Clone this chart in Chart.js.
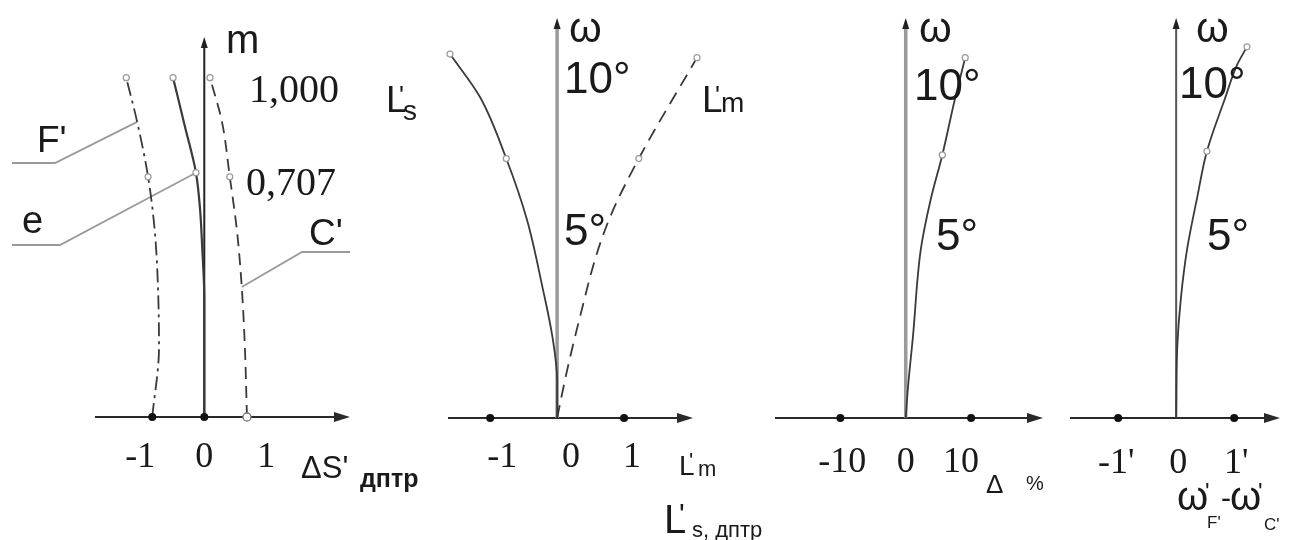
<!DOCTYPE html>
<html>
<head>
<meta charset="utf-8">
<script src="https://cdn.jsdelivr.net/npm/chart.js@4.4.1/dist/chart.umd.min.js"></script>
<style>
  html, body { margin: 0; padding: 0; background: #fff; }
  #wrap { position: relative; width: 1289px; height: 540px; background: #fff; }
  #wrap canvas { position: absolute; left: 0; top: 0; }
</style>
</head>
<body>
<div id="wrap">
  <canvas id="chromaChart" width="1289" height="540"></canvas>
  <canvas id="astigChart" width="1289" height="540"></canvas>
  <canvas id="distChart" width="1289" height="540"></canvas>
  <canvas id="latChart" width="1289" height="540"></canvas>
</div>
<script>
// --- Data ---

// Panel 1: longitudinal chromatic aberration (dioptres) vs relative aperture m
const mLevels = [0, 0.206, 0.383, 0.546, 0.708, 0.87, 1.0];
const deltaSF = [-1.0, -0.87, -0.89, -0.95, -1.08, -1.29, -1.50];
const deltaSC = [0.82, 0.78, 0.72, 0.63, 0.49, 0.34, 0.11];
const mLevelsE = [0, 0.35, 0.50, 0.61, 0.72, 0.855, 1.0];
const deltaSE = [0, 0, -0.04, -0.08, -0.16, -0.37, -0.60];
const apertureMarks = [0.708, 0.72, 1.0];
const dsTicks = [-1, 0, 1];
const dsTickLabels = ['-1', '0', '1'];
const dsTickDots = [-1, 0];
const mTickLabels = ['1,000', '0,707'];

// Panel 2: astigmatism (dioptres) vs field angle ω
const omegaLs = [0, 1.05, 2.25, 3.64, 5.5, 7.2, 8.9, 10.1];
const astigLs = [0, 0, -0.07, -0.22, -0.45, -0.76, -1.15, -1.60];
const omegaLm = [0, 1.33, 2.72, 4.6, 5.7, 7.2, 10.0];
const astigLm = [0, 0.15, 0.33, 0.60, 0.82, 1.22, 2.09];
const astigTicks = [-1, 0, 1];
const astigTickLabels = ['-1', '0', '1'];
const astigTickDots = [-1, 1];

// Panel 3: distortion (%) vs ω
const omegaDist = [0, 0.86, 2.25, 4.67, 6.05, 7.3, 8.83, 10.0];
const distortion = [0, 0.35, 1.1, 2.3, 3.8, 5.6, 7.5, 9.1];
const distTicks = [-10, 0, 10];
const distTickLabels = ['-10', '0', '10'];
const distTickDots = [-10, 10];

// Panel 4: chromatic difference of magnification (minutes) vs ω
const omegaLat = [0, 2.0, 3.3, 4.7, 6.1, 7.4, 8.86, 9.8, 10.3];
const latColour = [0, 0.02, 0.08, 0.19, 0.36, 0.53, 0.84, 1.05, 1.22];
const latTicks = [-1, 0, 1];
const latTickLabels = ["-1'", '0', "1'"];
const latTickDots = [-1, 1];

const omegaTickLabels = ['10°', '5°'];
const fieldMarks = [7.2, 7.3, 7.4, 10.0, 10.1, 10.3];

const SANS = '"Liberation Sans", Arial, sans-serif';
const SERIF = '"Liberation Serif", "Times New Roman", serif';
const CURVE = '#3a3a3a';

function makeSeries(xs, ys, marks, style) {
    return Object.assign({
        data: xs.map((x, i) => ({ x: x, y: ys[i] })),
        borderColor: CURVE,
        borderWidth: 1.8,
        fill: false,
        cubicInterpolationMode: 'monotone',
        clip: false,
        pointStyle: 'circle',
        pointRadius: ctx => (ctx.raw && marks.includes(ctx.raw.y)) ? 3 : 0,
        pointBorderColor: '#999',
        pointBackgroundColor: '#fff',
        pointBorderWidth: 1.2
    }, style || {});
}

function drawRuns(ctx, runs) {
    runs.forEach(r => {
        ctx.font = r.f;
        ctx.fillStyle = r.c || '#1a1a1a';
        ctx.textAlign = r.a || 'left';
        ctx.textBaseline = 'alphabetic';
        ctx.fillText(r.t, r.x, r.y);
    });
}

// draws the hand-style axes, arrows, tick dots, labels and leader lines
const sketchAxes = {
    id: 'sketchAxes',
    beforeDatasetsDraw(chart, args, o) {
        const { ctx, chartArea: a, scales: { x, y } } = chart;
        const x0 = x.getPixelForValue(0);
        const y0 = y.getPixelForValue(0);
        ctx.save();
        // horizontal axis with arrow
        ctx.strokeStyle = '#2a2a2a';
        ctx.lineWidth = 2;
        ctx.beginPath();
        ctx.moveTo(a.left, y0);
        ctx.lineTo(a.right - 8, y0);
        ctx.stroke();
        ctx.fillStyle = '#2a2a2a';
        ctx.beginPath();
        ctx.moveTo(a.right, y0);
        ctx.lineTo(a.right - 16, y0 - 5);
        ctx.lineTo(a.right - 16, y0 + 5);
        ctx.closePath();
        ctx.fill();
        // vertical axis with arrow
        ctx.strokeStyle = o.vColor;
        ctx.lineWidth = o.vWidth;
        ctx.beginPath();
        ctx.moveTo(x0, y0);
        ctx.lineTo(x0, a.top + 6);
        ctx.stroke();
        ctx.fillStyle = '#222';
        ctx.beginPath();
        ctx.moveTo(x0, a.top);
        ctx.lineTo(x0 - 3.5, a.top + 11);
        ctx.lineTo(x0 + 3.5, a.top + 11);
        ctx.closePath();
        ctx.fill();
        // leader lines from labels to curves
        (o.leaders || []).forEach(l => {
            const p = chart.getDatasetMeta(l.ds).data[l.idx];
            ctx.strokeStyle = '#9a9a9a';
            ctx.lineWidth = 1.8;
            ctx.beginPath();
            ctx.moveTo(l.path[0][0], l.path[0][1]);
            l.path.slice(1).forEach(q => ctx.lineTo(q[0], q[1]));
            ctx.lineTo(p.x, p.y);
            ctx.stroke();
        });
        ctx.restore();
    },
    afterDatasetsDraw(chart, args, o) {
        const { ctx, scales: { x, y } } = chart;
        const y0 = y.getPixelForValue(0);
        ctx.save();
        (o.dots || []).forEach(v => {
            ctx.fillStyle = '#111';
            ctx.beginPath();
            ctx.arc(x.getPixelForValue(v), y0, 4, 0, Math.PI * 2);
            ctx.fill();
        });
        (o.hollow || []).forEach(v => {
            ctx.strokeStyle = '#777';
            ctx.fillStyle = '#fff';
            ctx.lineWidth = 1.3;
            ctx.beginPath();
            ctx.arc(x.getPixelForValue(v), y0, 4, 0, Math.PI * 2);
            ctx.fill();
            ctx.stroke();
        });
        ctx.font = `36px ${SERIF}`;
        ctx.fillStyle = '#1a1a1a';
        ctx.textAlign = 'center';
        ctx.textBaseline = 'alphabetic';
        o.ticks.forEach((v, i) => {
            const dx = (o.tickDx && o.tickDx[i]) || 0;
            ctx.fillText(o.tickLabels[i], x.getPixelForValue(v) + dx, o.tickBaseline);
        });
        drawRuns(ctx, o.texts || []);
        ctx.restore();
    }
};

function makeChart(id, datasets, xRange, yMax, pad, axisOpts) {
    return new Chart(document.getElementById(id), {
        type: 'line',
        data: { datasets: datasets },
        options: {
            indexAxis: 'y',
            responsive: false,
            animation: false,
            devicePixelRatio: 1,
            events: [],
            layout: { padding: pad },
            scales: {
                x: { type: 'linear', min: xRange[0], max: xRange[1], display: false },
                y: { type: 'linear', min: 0, max: yMax, display: false }
            },
            plugins: {
                legend: { display: false },
                tooltip: { enabled: false },
                sketchAxes: axisOpts
            }
        },
        plugins: [sketchAxes]
    });
}

// --- Panel 1 ---
makeChart('chromaChart', [
    makeSeries(deltaSF, mLevels, apertureMarks, { borderDash: [14, 5, 3, 5] }),
    makeSeries(deltaSE, mLevelsE, apertureMarks, { borderWidth: 2.2 }),
    makeSeries(deltaSC, mLevels, apertureMarks, { borderDash: [12, 7] })
], [-2.1, 2.8], 1.12, { left: 95, right: 939, top: 37, bottom: 123 }, {
    vColor: '#222', vWidth: 2,
    dots: dsTickDots, hollow: [deltaSC[0]],
    ticks: dsTicks, tickLabels: dsTickLabels, tickDx: [-12, 0, 10], tickBaseline: 467,
    leaders: [
        { ds: 0, idx: 5, path: [[12, 163], [55, 163]] },
        { ds: 1, idx: 4, path: [[12, 245], [60, 245]] },
        { ds: 2, idx: 2, path: [[350, 252], [302, 252]] }
    ],
    texts: [
        { t: 'm', x: 226, y: 53, f: `40px ${SANS}` },
        { t: mTickLabels[0], x: 249, y: 102, f: `40px ${SERIF}` },
        { t: mTickLabels[1], x: 246, y: 195, f: `40px ${SERIF}` },
        { t: "F'", x: 37, y: 152, f: `37px ${SANS}` },
        { t: 'e', x: 22, y: 233, f: `38px ${SANS}` },
        { t: "C'", x: 309, y: 245, f: `37px ${SANS}` },
        { t: "ΔS'", x: 301, y: 478, f: `31px ${SANS}` },
        { t: 'дптр', x: 360, y: 487, f: `bold 25px ${SANS}` }
    ]
});

// --- Panel 2 ---
makeChart('astigChart', [
    makeSeries(astigLs, omegaLs, fieldMarks),
    makeSeries(astigLm, omegaLm, fieldMarks, { borderDash: [13, 8] })
], [-1.63, 2.03], 11.1, { left: 448, right: 596, top: 18, bottom: 122 }, {
    vColor: '#9a9a9a', vWidth: 3.5,
    dots: astigTickDots,
    ticks: astigTicks, tickLabels: astigTickLabels, tickDx: [12, 14, 8], tickBaseline: 467,
    texts: [
        { t: 'ω', x: 569, y: 42, f: `42px ${SANS}` },
        { t: omegaTickLabels[0], x: 564, y: 93, f: `44px ${SANS}` },
        { t: omegaTickLabels[1], x: 564, y: 245, f: `44px ${SANS}` },
        { t: 'L', x: 386, y: 112, f: `37px ${SANS}` },
        { t: "'", x: 399, y: 104, f: `26px ${SANS}` },
        { t: 's', x: 403, y: 120, f: `28px ${SANS}` },
        { t: 'L', x: 702, y: 112, f: `37px ${SANS}` },
        { t: "'", x: 715, y: 104, f: `26px ${SANS}` },
        { t: 'm', x: 721, y: 112, f: `28px ${SANS}` },
        { t: 'L', x: 679, y: 475, f: `28px ${SANS}` },
        { t: "'", x: 689, y: 468, f: `22px ${SANS}` },
        { t: 'm', x: 698, y: 476, f: `22px ${SANS}` },
        { t: 'L', x: 664, y: 533, f: `40px ${SANS}` },
        { t: "'", x: 679, y: 524, f: `30px ${SANS}` },
        { t: 's, дптр', x: 692, y: 537, f: `22px ${SANS}` }
    ]
});

// --- Panel 3 ---
makeChart('distChart', [
    makeSeries(distortion, omegaDist, fieldMarks)
], [-20, 21], 11.1, { left: 775, right: 246, top: 18, bottom: 122 }, {
    vColor: '#9a9a9a', vWidth: 3.5,
    dots: distTickDots,
    ticks: distTicks, tickLabels: distTickLabels, tickDx: [2, 0, -10], tickBaseline: 472,
    texts: [
        { t: 'ω', x: 919, y: 42, f: `42px ${SANS}` },
        { t: omegaTickLabels[0], x: 914, y: 100, f: `44px ${SANS}` },
        { t: omegaTickLabels[1], x: 936, y: 250, f: `44px ${SANS}` },
        { t: 'Δ', x: 986, y: 493, f: `26px ${SANS}` },
        { t: '%', x: 1026, y: 490, f: `20px ${SANS}` }
    ]
});

// --- Panel 4 ---
makeChart('latChart', [
    makeSeries(latColour, omegaLat, fieldMarks)
], [-1.83, 1.79], 11.1, { left: 1070, right: 9, top: 18, bottom: 122 }, {
    vColor: '#555', vWidth: 2,
    dots: latTickDots,
    ticks: latTicks, tickLabels: latTickLabels, tickDx: [-2, 2, 2], tickBaseline: 473,
    texts: [
        { t: 'ω', x: 1196, y: 42, f: `42px ${SANS}` },
        { t: omegaTickLabels[0], x: 1179, y: 98, f: `44px ${SANS}` },
        { t: omegaTickLabels[1], x: 1207, y: 250, f: `44px ${SANS}` },
        { t: 'ω', x: 1177, y: 510, f: `40px ${SANS}` },
        { t: "'", x: 1205, y: 500, f: `24px ${SANS}` },
        { t: "F'", x: 1207, y: 528, f: `17px ${SANS}` },
        { t: '-', x: 1221, y: 508, f: `30px ${SANS}` },
        { t: 'ω', x: 1230, y: 510, f: `40px ${SANS}` },
        { t: "'", x: 1258, y: 500, f: `24px ${SANS}` },
        { t: "C'", x: 1264, y: 530, f: `17px ${SANS}` }
    ]
});
</script>
</body>
</html>
